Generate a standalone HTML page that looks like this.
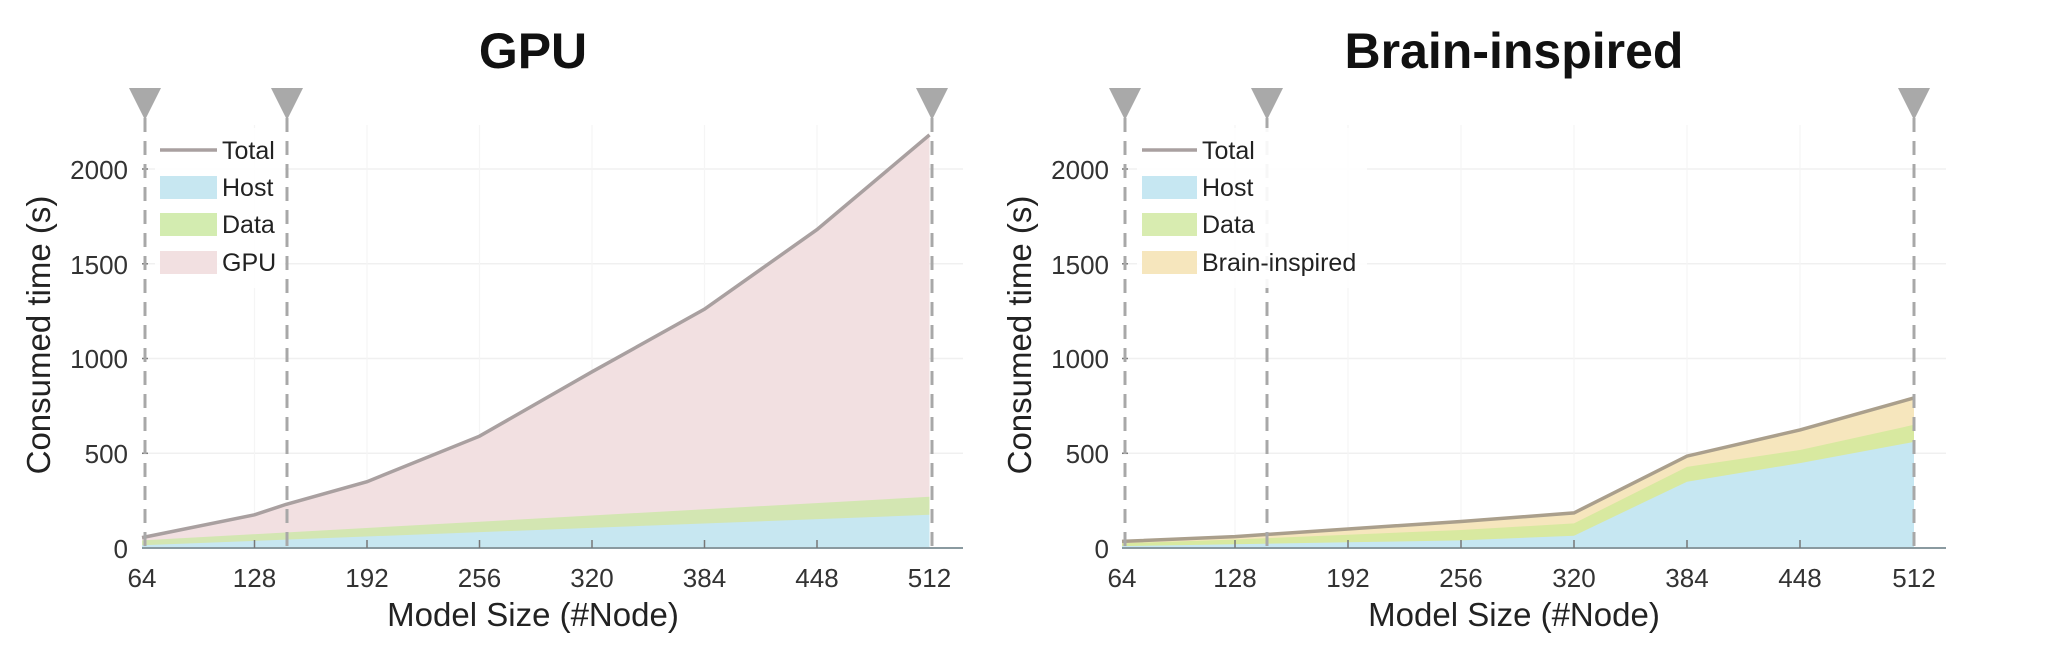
<!DOCTYPE html>
<html><head><meta charset="utf-8"><style>
html,body{margin:0;padding:0;background:#fff;}
svg{display:block;font-family:"Liberation Sans",Arial,sans-serif;}
</style></head><body>
<svg width="2048" height="661" viewBox="0 0 2048 661" xmlns="http://www.w3.org/2000/svg">
<!-- ================= LEFT: GPU ================= -->
<g>
<text x="533" y="68" font-size="50" font-weight="bold" text-anchor="middle" fill="#111">GPU</text>
<g stroke="#f0f0f0" stroke-width="1.5">
<line x1="142" y1="453.3" x2="963" y2="453.3"/><line x1="142" y1="358.5" x2="963" y2="358.5"/>
<line x1="142" y1="263.8" x2="963" y2="263.8"/><line x1="142" y1="169" x2="963" y2="169"/>
</g>
<g stroke="#f5f5f5" stroke-width="1.2">
<line x1="254.5" y1="125" x2="254.5" y2="548"/><line x1="367" y1="125" x2="367" y2="548"/>
<line x1="479.5" y1="125" x2="479.5" y2="548"/><line x1="592" y1="125" x2="592" y2="548"/>
<line x1="704.5" y1="125" x2="704.5" y2="548"/><line x1="817" y1="125" x2="817" y2="548"/>
</g>
<polygon fill="#f2e0e1" points="142,548 142,537.6 254.5,514.8 286,504.4 367,481.7 479.5,436.2 592,371.8 704.5,309.2 817,229.6 929.5,134.9 929.5,548"/>
<polygon fill="#d3e6b2" points="142,548 142,540.4 929.5,496.8 929.5,548"/>
<polygon fill="#c7e7f1" points="142,548 142,545.2 929.5,514.8 929.5,548"/>
<polyline fill="none" stroke="#a9a0a0" stroke-width="3.5" points="142,537.6 254.5,514.8 286,504.4 367,481.7 479.5,436.2 592,371.8 704.5,309.2 817,229.6 929.5,134.9"/>
<line x1="142" y1="548" x2="963" y2="548" stroke="#8a9aa0" stroke-width="2"/>
<g stroke="#777" stroke-width="1.5">
<line x1="254.5" y1="548" x2="254.5" y2="540"/><line x1="367" y1="548" x2="367" y2="540"/><line x1="479.5" y1="548" x2="479.5" y2="540"/>
<line x1="592" y1="548" x2="592" y2="540"/><line x1="704.5" y1="548" x2="704.5" y2="540"/><line x1="817" y1="548" x2="817" y2="540"/>
<line x1="142" y1="453.3" x2="148" y2="453.3"/><line x1="142" y1="358.5" x2="148" y2="358.5"/><line x1="142" y1="263.8" x2="148" y2="263.8"/><line x1="142" y1="169" x2="148" y2="169"/>
</g>
<g stroke="#a8a8a8" stroke-width="3" stroke-dasharray="14 9">
<line x1="145" y1="118" x2="145" y2="548"/><line x1="287" y1="118" x2="287" y2="548"/><line x1="932" y1="118" x2="932" y2="548"/>
</g>
<g fill="#a9a9a9">
<polygon points="129,88 161,88 145,120"/><polygon points="271,88 303,88 287,120"/><polygon points="916,88 948,88 932,120"/>
</g>
<rect x="155" y="128" width="130" height="160" fill="#fff" opacity="0.9"/>
<line x1="160" y1="150" x2="217" y2="150" stroke="#a9a0a0" stroke-width="3.5"/>
<rect x="160" y="176" width="57" height="23" fill="#c7e7f1"/>
<rect x="160" y="213" width="57" height="23" fill="#d3ecb0"/>
<rect x="160" y="251" width="57" height="23" fill="#f2e0e1"/>
<g font-size="25" fill="#222">
<text x="222" y="159">Total</text><text x="222" y="196">Host</text><text x="222" y="233">Data</text><text x="222" y="271">GPU</text>
</g>
<g font-size="26" fill="#333" text-anchor="end">
<text x="128" y="558">0</text><text x="128" y="463">500</text><text x="128" y="368">1000</text><text x="128" y="274">1500</text><text x="128" y="179">2000</text>
</g>
<g font-size="26" fill="#333" text-anchor="middle">
<text x="142" y="587">64</text><text x="254.5" y="587">128</text><text x="367" y="587">192</text><text x="479.5" y="587">256</text>
<text x="592" y="587">320</text><text x="704.5" y="587">384</text><text x="817" y="587">448</text><text x="929.5" y="587">512</text>
</g>
<text x="533" y="626" font-size="33" fill="#222" text-anchor="middle">Model Size (#Node)</text>
<text transform="translate(50,335) rotate(-90)" font-size="33" fill="#222" text-anchor="middle">Consumed time (s)</text>
</g>

<!-- ================= RIGHT: Brain-inspired ================= -->
<g>
<text x="1514" y="68" font-size="50" font-weight="bold" text-anchor="middle" fill="#111">Brain-inspired</text>
<g stroke="#f0f0f0" stroke-width="1.5">
<line x1="1122" y1="453.3" x2="1946" y2="453.3"/><line x1="1122" y1="358.5" x2="1946" y2="358.5"/>
<line x1="1122" y1="263.8" x2="1946" y2="263.8"/><line x1="1122" y1="169" x2="1946" y2="169"/>
</g>
<g stroke="#f5f5f5" stroke-width="1.2">
<line x1="1235" y1="125" x2="1235" y2="548"/><line x1="1348" y1="125" x2="1348" y2="548"/>
<line x1="1461" y1="125" x2="1461" y2="548"/><line x1="1574" y1="125" x2="1574" y2="548"/>
<line x1="1687" y1="125" x2="1687" y2="548"/><line x1="1800" y1="125" x2="1800" y2="548"/>
</g>
<polygon fill="#f6e6bd" points="1122,548 1122,541.4 1235,536.6 1348,529 1461,521.5 1574,512.9 1687,456.1 1800,429.9 1914,397.9 1914,548"/>
<polygon fill="#d8e9a0" points="1122,548 1122,543.3 1235,539.5 1348,534.7 1461,530 1574,523.4 1687,466.9 1800,450 1914,424.8 1914,548"/>
<polygon fill="#c6e7f2" points="1122,548 1122,546.1 1235,544.2 1348,542.3 1461,540.4 1574,535.7 1687,481.7 1800,463.1 1914,441.9 1914,548"/>
<polyline fill="none" stroke="#aa9f8c" stroke-width="3.5" points="1122,541.4 1235,536.6 1348,529 1461,521.5 1574,512.9 1687,456.1 1800,429.9 1914,397.9"/>
<line x1="1122" y1="548" x2="1946" y2="548" stroke="#8a9aa0" stroke-width="2"/>
<g stroke="#777" stroke-width="1.5">
<line x1="1235" y1="548" x2="1235" y2="540"/><line x1="1348" y1="548" x2="1348" y2="540"/><line x1="1461" y1="548" x2="1461" y2="540"/>
<line x1="1574" y1="548" x2="1574" y2="540"/><line x1="1687" y1="548" x2="1687" y2="540"/><line x1="1800" y1="548" x2="1800" y2="540"/>
<line x1="1122" y1="453.3" x2="1128" y2="453.3"/><line x1="1122" y1="358.5" x2="1128" y2="358.5"/><line x1="1122" y1="263.8" x2="1128" y2="263.8"/><line x1="1122" y1="169" x2="1128" y2="169"/>
</g>
<g stroke="#a8a8a8" stroke-width="3" stroke-dasharray="14 9">
<line x1="1125" y1="118" x2="1125" y2="548"/><line x1="1267" y1="118" x2="1267" y2="548"/><line x1="1914" y1="118" x2="1914" y2="548"/>
</g>
<g fill="#a9a9a9">
<polygon points="1109,88 1141,88 1125,120"/><polygon points="1251,88 1283,88 1267,120"/><polygon points="1898,88 1930,88 1914,120"/>
</g>
<rect x="1137" y="128" width="230" height="160" fill="#fff" opacity="0.9"/>
<line x1="1142" y1="150" x2="1197" y2="150" stroke="#a9a0a0" stroke-width="3.5"/>
<rect x="1142" y="176" width="55" height="23" fill="#c6e7f2"/>
<rect x="1142" y="213" width="55" height="23" fill="#d8ecb0"/>
<rect x="1142" y="251" width="55" height="23" fill="#f6e6bd"/>
<g font-size="25" fill="#222">
<text x="1202" y="159">Total</text><text x="1202" y="196">Host</text><text x="1202" y="233">Data</text><text x="1202" y="271">Brain-inspired</text>
</g>
<g font-size="26" fill="#333" text-anchor="end">
<text x="1109" y="558">0</text><text x="1109" y="463">500</text><text x="1109" y="368">1000</text><text x="1109" y="274">1500</text><text x="1109" y="179">2000</text>
</g>
<g font-size="26" fill="#333" text-anchor="middle">
<text x="1122" y="587">64</text><text x="1235" y="587">128</text><text x="1348" y="587">192</text><text x="1461" y="587">256</text>
<text x="1574" y="587">320</text><text x="1687" y="587">384</text><text x="1800" y="587">448</text><text x="1914" y="587">512</text>
</g>
<text x="1514" y="626" font-size="33" fill="#222" text-anchor="middle">Model Size (#Node)</text>
<text transform="translate(1031,335) rotate(-90)" font-size="33" fill="#222" text-anchor="middle">Consumed time (s)</text>
</g>
</svg>
</body></html>
